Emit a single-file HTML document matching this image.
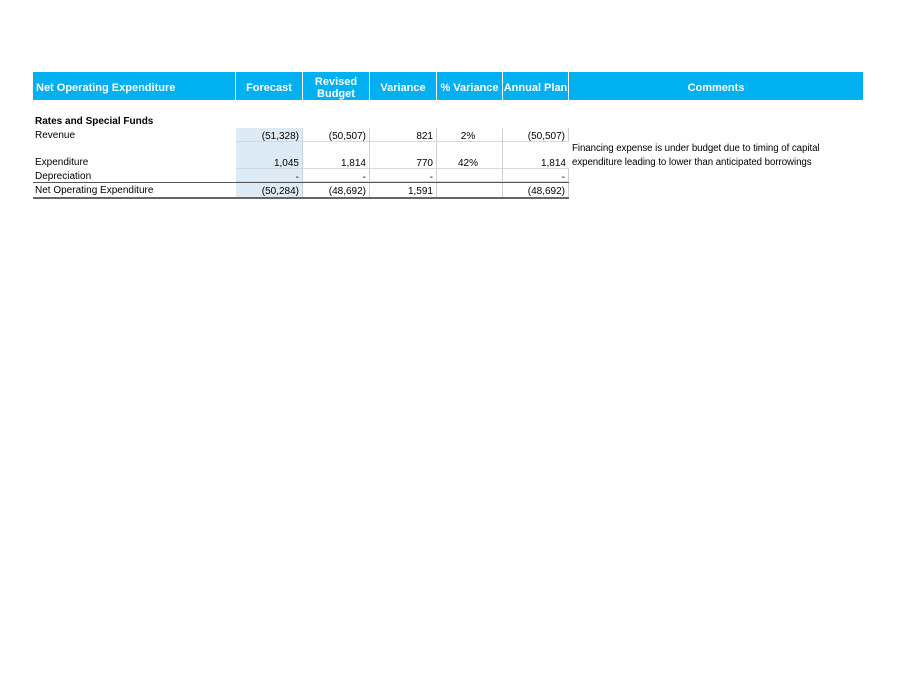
<!DOCTYPE html>
<html><head><meta charset="utf-8"><style>
body{margin:0;width:909px;height:690px;background:#fff;position:relative;font-family:"Liberation Sans",sans-serif;overflow:hidden}
.a{position:absolute;white-space:nowrap}
.h{position:absolute;top:72px;height:28px;padding-top:3px;background:#00b0f0;color:#fff;font-weight:bold;font-size:11px;display:flex;align-items:center;justify-content:center;text-align:center;line-height:12px;border-right:1px solid #fff;box-sizing:border-box}
.t{font-size:10px;color:#000}
.c{position:absolute;box-sizing:border-box;border-right:1px solid #d0d0d0;border-bottom:1px solid #d8d8d8;font-size:10px;text-align:right;padding-right:3px;padding-top:2px;line-height:13px}
.blue{background:#ddebf7}
</style></head><body>
<div class="h" style="left:33px;width:203px;justify-content:flex-start;padding-left:3px">Net Operating Expenditure</div>
<div class="h" style="left:236px;width:67px">Forecast</div>
<div class="h" style="left:303px;width:67px">Revised<br>Budget</div>
<div class="h" style="left:370px;width:67px">Variance</div>
<div class="h" style="left:437px;width:66px">% Variance</div>
<div class="h" style="left:503px;width:66px">Annual Plan</div>
<div class="h" style="left:569px;width:294px;border-right:none">Comments</div>

<div class="a t" style="left:35px;top:116px;font-weight:bold">Rates and Special Funds</div>

<div class="a t" style="left:35px;top:130px">Revenue</div>
<div class="c blue" style="left:236px;top:128px;width:67px;height:14px">(51,328)</div>
<div class="c" style="left:303px;top:128px;width:67px;height:14px">(50,507)</div>
<div class="c" style="left:370px;top:128px;width:67px;height:14px">821</div>
<div class="c" style="left:437px;top:128px;width:66px;height:14px;text-align:center">2%</div>
<div class="c" style="left:503px;top:128px;width:66px;height:14px">(50,507)</div>

<div class="c blue" style="left:236px;top:142px;width:67px;height:27px;line-height:40px">1,045</div>
<div class="c" style="left:303px;top:142px;width:67px;height:27px;line-height:40px">1,814</div>
<div class="c" style="left:370px;top:142px;width:67px;height:27px;line-height:40px">770</div>
<div class="c" style="left:437px;top:142px;width:66px;height:27px;line-height:40px;text-align:center">42%</div>
<div class="c" style="left:503px;top:142px;width:66px;height:27px;line-height:40px;border-right:none">1,814</div>
<div class="a t" style="left:35px;top:157px">Expenditure</div>
<div class="a t" style="left:572px;top:142px;line-height:14px;font-size:9.7px;letter-spacing:-0.05px">Financing expense is under budget due to timing of capital<br>expenditure leading to lower than anticipated borrowings</div>

<div class="a t" style="left:35px;top:171px">Depreciation</div>
<div class="c blue" style="left:236px;top:169px;width:67px;height:13px">-</div>
<div class="c" style="left:303px;top:169px;width:67px;height:13px">-</div>
<div class="c" style="left:370px;top:169px;width:67px;height:13px">-</div>
<div class="c" style="left:437px;top:169px;width:66px;height:13px"></div>
<div class="c" style="left:503px;top:169px;width:66px;height:13px">-</div>

<div class="a" style="left:33px;top:182px;width:536px;border-top:1px solid #555"></div>
<div class="a t" style="left:35px;top:185px">Net Operating Expenditure</div>
<div class="c blue" style="left:236px;top:183px;width:67px;height:14px;border-bottom:none">(50,284)</div>
<div class="c" style="left:303px;top:183px;width:67px;height:14px;border-bottom:none">(48,692)</div>
<div class="c" style="left:370px;top:183px;width:67px;height:14px;border-bottom:none">1,591</div>
<div class="c" style="left:437px;top:183px;width:66px;height:14px;border-bottom:none"></div>
<div class="c" style="left:503px;top:183px;width:66px;height:14px;border-bottom:none">(48,692)</div>
<div class="a" style="left:33px;top:197px;width:536px;border-top:2px solid #666"></div>
</body></html>
